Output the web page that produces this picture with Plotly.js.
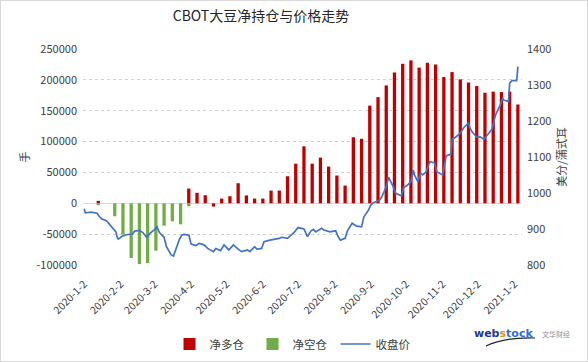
<!DOCTYPE html>
<html>
<head>
<meta charset="utf-8">
<script src="https://cdn.plot.ly/plotly-3.0.1.min.js"></script>
<style>
  html, body { margin: 0; padding: 0; background: #fff; }
  #chart { width: 588px; height: 362px; }
  #frame { position: absolute; left: 0; top: 0; width: 588px; height: 362px; box-sizing: border-box; border: 1px solid #d9d9d9; pointer-events: none; }
</style>
</head>
<body>
<div id="chart"></div>
<div id="frame"></div>
<script>
// Weekly position report dates (Tuesdays)
const weekDates = [
  '2020-01-14','2020-01-21','2020-01-28','2020-02-04','2020-02-11','2020-02-18','2020-02-25',
  '2020-03-03','2020-03-10','2020-03-17','2020-03-24','2020-03-31','2020-04-07','2020-04-14',
  '2020-04-21','2020-04-28','2020-05-05','2020-05-12','2020-05-19','2020-05-26','2020-06-02',
  '2020-06-09','2020-06-16','2020-06-23','2020-06-30','2020-07-07','2020-07-14','2020-07-21',
  '2020-07-28','2020-08-04','2020-08-11','2020-08-18','2020-08-25','2020-09-01','2020-09-08',
  '2020-09-15','2020-09-22','2020-09-29','2020-10-06','2020-10-13','2020-10-20','2020-10-27',
  '2020-11-03','2020-11-10','2020-11-17','2020-11-24','2020-12-01','2020-12-08','2020-12-15',
  '2020-12-22','2020-12-29','2021-01-05'
];
// 净多仓 (net long), contracts
const netLong = [
  4000, null, null, null, null, null, null,
  null, null, null, null, 23900, 17000, 13000,
  -5300, 7600, 11400, 32500, 12800, 7600, 7600,
  20600, 20600, 43800, 64200, 92300, 64200, 74000,
  59500, 45000, 28700, 107000, 104500, 158300, 172000,
  191000, 212000, 226000, 231600, 219900, 227800, 225000,
  204700, 212600, 200800, 195700, 190000, 179100, 180900,
  180200, 180900, 160100
];
// 净空仓 (net short), contracts
const netShort = [
  -3000, null, -21100, -50800, -88600, -98400, -96800,
  -76800, -36200, -29200, -34100, -4900, null, null,
  null, null, null, null, null, null, null,
  null, null, null, null, null, null, null,
  null, null, null, null, null, null, null,
  null, null, null, null, null, null, null,
  null, null, null, null, null, null, null,
  null, null, null
];
// 收盘价 (close), cents / bushel
const priceDates = [
  '2020-01-02','2020-01-03','2020-01-08','2020-01-13','2020-01-15','2020-01-17','2020-01-21',
  '2020-01-24','2020-01-27','2020-01-29','2020-01-30','2020-01-31','2020-02-04','2020-02-07',
  '2020-02-12','2020-02-14','2020-02-18','2020-02-21','2020-02-24','2020-02-27','2020-03-02',
  '2020-03-04','2020-03-06','2020-03-10','2020-03-12','2020-03-16','2020-03-18','2020-03-20',
  '2020-03-23','2020-03-25','2020-03-27','2020-03-31','2020-04-02','2020-04-06','2020-04-09',
  '2020-04-13','2020-04-16','2020-04-21','2020-04-23','2020-04-27','2020-04-30','2020-05-04',
  '2020-05-06','2020-05-08','2020-05-12','2020-05-15','2020-05-20','2020-05-22','2020-05-26',
  '2020-05-28','2020-06-01','2020-06-03','2020-06-08','2020-06-12','2020-06-16','2020-06-18',
  '2020-06-23','2020-06-29','2020-07-02','2020-07-07','2020-07-10','2020-07-13','2020-07-15',
  '2020-07-17','2020-07-22','2020-07-24','2020-07-29','2020-08-03','2020-08-05','2020-08-07',
  '2020-08-11','2020-08-13','2020-08-17','2020-08-21','2020-08-25','2020-08-27','2020-08-31',
  '2020-09-02','2020-09-04','2020-09-09','2020-09-11','2020-09-15','2020-09-17','2020-09-21',
  '2020-09-23','2020-09-28','2020-09-30','2020-10-02','2020-10-06','2020-10-08','2020-10-09',
  '2020-10-12','2020-10-14','2020-10-16','2020-10-19','2020-10-22','2020-10-26','2020-10-28',
  '2020-10-30','2020-11-02','2020-11-05','2020-11-09','2020-11-10','2020-11-13','2020-11-17',
  '2020-11-20','2020-11-24','2020-11-25','2020-11-27','2020-12-01','2020-12-04','2020-12-07',
  '2020-12-10','2020-12-14','2020-12-17','2020-12-21','2020-12-23','2020-12-24','2020-12-28',
  '2020-12-29','2020-12-31','2021-01-04','2021-01-05'
];
const priceValues = [
  956, 945, 947, 944, 934, 928, 923,
  911, 902, 892, 877, 872, 881, 884,
  886, 894, 896, 890, 877, 888, 899,
  906, 890, 877, 851, 828, 825, 846,
  871, 883, 885, 883, 858, 854, 860,
  856, 846, 837, 846, 840, 856, 842,
  849, 856, 844, 837, 842, 837, 851,
  844, 846, 865, 869, 871, 874, 877,
  874, 892, 904, 900, 879, 895, 899,
  892, 902, 897, 892, 895, 879, 869,
  874, 895, 916, 908, 906, 934, 953,
  967, 973, 979, 988, 1017, 1044, 1017,
  999, 992, 1017, 1019, 1031, 1064, 1050,
  1031, 1055, 1050, 1059, 1087, 1084, 1059,
  1056, 1050, 1103, 1108, 1149, 1155, 1166,
  1182, 1194, 1182, 1170, 1155, 1156, 1149,
  1161, 1177, 1217, 1244, 1263, 1258, 1254,
  1305, 1312, 1312, 1351
];
const tickDates = ['2020-01-02','2020-02-02','2020-03-02','2020-04-02','2020-05-02','2020-06-02',
  '2020-07-02','2020-08-02','2020-09-02','2020-10-02','2020-11-02','2020-12-02','2021-01-02'];
const tickLabels = ['2020-1-2','2020-2-2','2020-3-2','2020-4-2','2020-5-2','2020-6-2',
  '2020-7-2','2020-8-2','2020-9-2','2020-10-2','2020-11-2','2020-12-2','2021-1-2'];
const leftTicks = [-100000, -50000, 0, 50000, 100000, 150000, 200000, 250000];
const rightTicks = [800, 900, 1000, 1100, 1200, 1300, 1400];

const FONT = '"Noto Sans CJK SC", "Noto Sans", sans-serif';
const barW = 2.8 * 86400000;

const traces = [
  { type: 'bar', name: '净多仓', x: weekDates, y: netLong, width: barW,
    marker: { color: '#C00000', line: { width: 0 } }, hoverinfo: 'x+y' },
  { type: 'bar', name: '净空仓', x: weekDates, y: netShort, width: barW,
    marker: { color: '#70AD47', line: { width: 0 } }, hoverinfo: 'x+y' },
  { type: 'scatter', mode: 'lines', name: '收盘价', x: priceDates, y: priceValues, yaxis: 'y2',
    line: { color: '#4472C4', width: 1.7 } }
];

const layout = {
  width: 588, height: 362,
  margin: { l: 83, r: 66, t: 49, b: 97 },
  paper_bgcolor: '#ffffff', plot_bgcolor: '#ffffff',
  font: { family: FONT, size: 11, color: '#404040' },
  barmode: 'overlay',
  showlegend: true,
  title: { text: 'CBOT大豆净持仓与价格走势', x: 261 / 588, xref: 'container', xanchor: 'center',
    y: 1 - 16 / 362, yref: 'container', yanchor: 'middle',
    font: { family: FONT, size: 14, color: '#262626' } },
  xaxis: {
    type: 'date', range: ['2020-01-01', '2021-01-08 12:00'],
    tickmode: 'array', tickvals: tickDates, ticktext: tickLabels,
    tickangle: -45, ticks: '', showgrid: false, showline: false, zeroline: false,
    ticklabelstandoff: 10,
    tickfont: { family: FONT, size: 10.5, color: '#404040' }, fixedrange: true
  },
  yaxis: {
    range: [-100000, 250000], tickmode: 'array', tickvals: leftTicks,
    ticktext: leftTicks.map(String),
    showgrid: true, gridcolor: '#d0d0d0', griddash: 'dot', gridwidth: 1,
    zeroline: true, zerolinecolor: '#d9d9d9', zerolinewidth: 1.2,
    showline: false, ticks: '', ticklabelstandoff: 5,
    tickfont: { family: FONT, size: 11, color: '#404040' },
    title: { text: '手', font: { family: FONT, size: 11, color: '#404040' }, standoff: 4 }
  },
  yaxis2: {
    overlaying: 'y', side: 'right', range: [800, 1400], tickmode: 'array', tickvals: rightTicks,
    showgrid: false, zeroline: false, showline: false, ticks: '', ticklabelstandoff: 4,
    tickfont: { family: FONT, size: 11, color: '#404040' },
    title: { text: '美分/蒲式耳', font: { family: FONT, size: 11, color: '#404040' }, standoff: 7 }
  },
  legend: {
    orientation: 'h', x: 294 / 588, xref: 'container', xanchor: 'center',
    y: 1 - 344 / 362, yref: 'container', yanchor: 'middle',
    font: { family: FONT, size: 11.5, color: '#404040' },
    itemwidth: 30, entrywidth: 38, entrywidthmode: 'pixels',
    tracegroupgap: 0, bgcolor: 'rgba(0,0,0,0)'
  },
  annotations: [
    { xref: 'paper', yref: 'paper', x: (535 - 83) / 439, y: -(333 - 265) / 216, xanchor: 'right', yanchor: 'middle',
      text: '<b><span style="color:#1f3a8a">web</span><span style="color:#e88a10">s</span><span style="color:#2f6fd6">tock</span></b>',
      showarrow: false, font: { family: '"DejaVu Sans", sans-serif', size: 11 } },
    { xref: 'paper', yref: 'paper', x: (540 - 83) / 439, y: -(334 - 265) / 216, xanchor: 'left', yanchor: 'middle',
      text: '文华财经', showarrow: false, font: { family: FONT, size: 7, color: '#909090' } }
  ],
  shapes: [
    { type: 'path', xref: 'paper', yref: 'paper',
      path: 'M ' + ((486 - 83) / 439) + ',' + (-(346 - 265) / 216) + ' Q ' + ((505 - 83) / 439) + ',' + (-(337 - 265) / 216) + ' ' + ((535 - 83) / 439) + ',' + (-(338 - 265) / 216),
      line: { color: '#222', width: 1.2 } }
  ]
};

Plotly.newPlot('chart', traces, layout, { displayModeBar: false, staticPlot: true });
</script>
</body>
</html>
